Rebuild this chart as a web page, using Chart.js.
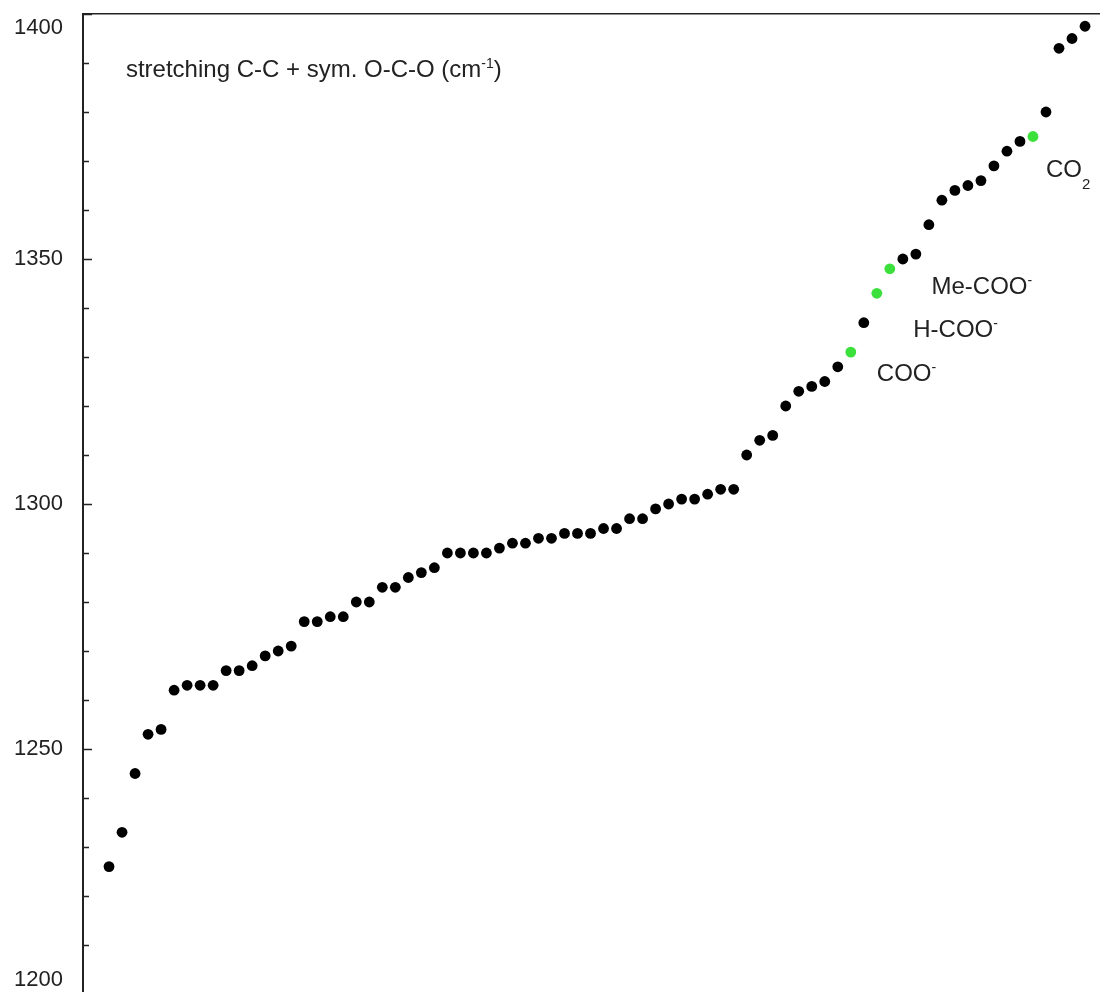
<!DOCTYPE html>
<html lang="en">

<head>
    <meta charset="UTF-8">
    <meta name="viewport" content="width=device-width, initial-scale=1.0">
    <title>stretching C-C + sym. O-C-O</title>
    <script src="https://cdn.jsdelivr.net/npm/chart.js@4.4.0/dist/chart.umd.min.js"></script>
    <style>
        html,
        body {
            margin: 0;
            padding: 0;
            background: #fff;
            overflow: hidden;
        }

        /* a bit taller than the window: the 1200 line sits just below the picture */
        .chart-box {
            position: relative;
            width: 1100px;
            height: 1004px;
        }
    </style>
</head>

<body>
    <div class="chart-box">
        <canvas id="myChart"></canvas>
    </div>
    <script>
        // sample number (x) and band position in cm-1 (y)
        const sampleNo = [];
        for (let i = 1; i <= 76; i++) sampleNo.push(i);

        const wavenumbers = [
            1226, 1233, 1245, 1253, 1254, 1262, 1263, 1263, 1263, 1266,
            1266, 1267, 1269, 1270, 1271, 1276, 1276, 1277, 1277, 1280,
            1280, 1283, 1283, 1285, 1286, 1287, 1290, 1290, 1290, 1290,
            1291, 1292, 1292, 1293, 1293, 1294, 1294, 1294, 1295, 1295,
            1297, 1297, 1299, 1300, 1301, 1301, 1302, 1303, 1303, 1310,
            1313, 1314, 1320, 1323, 1324, 1325, 1328, 1331, 1337, 1343,
            1348, 1350, 1351, 1357, 1362, 1364, 1365, 1366, 1369, 1372,
            1374, 1375, 1380, 1393, 1395, 1397.5
        ];

        // samples shown in green (COO-, H-COO-, Me-COO-, CO2)
        const greenSamples = [58, 60, 61, 72];

        const yMin = 1200;
        const yMax = 1400;
        const yStep = 10;
        const yLabelStep = 50;

        // text labels, anchored in data units (x = sample no, y = baseline in cm-1)
        const notes = [
            { x: 2.3, y: 1387.1, parts: [['stretching C-C + sym. O-C-O (cm', ''], ['-1', 'sup'], [')', '']] },
            { x: 60.0, y: 1325.2, parts: [['COO', ''], ['-', 'sup']] },
            { x: 62.8, y: 1334.0, parts: [['H-COO', ''], ['-', 'sup']] },
            { x: 64.2, y: 1342.9, parts: [['Me-COO', ''], ['-', 'sup']] },
            { x: 73.0, y: 1366.8, parts: [['CO', ''], ['2', 'sub']] }
        ];

        const fontFamily = '"Liberation Sans", Arial, sans-serif';
        const inkColor = '#222';
        const greenColor = '#3be03b';

        // short tick marks on the inside of the left axis
        const innerTicks = {
            id: 'innerTicks',
            afterDatasetsDraw(chart) {
                const y = chart.scales.y;
                const ctx = chart.ctx;
                const left = chart.chartArea.left;
                ctx.save();
                ctx.strokeStyle = inkColor;
                ctx.lineWidth = 1.5;
                y.ticks.forEach((t, i) => {
                    const py = Math.round(y.getPixelForTick(i)) + 0.5;
                    const len = t.value % yLabelStep === 0 ? 9 : 6;
                    ctx.beginPath();
                    ctx.moveTo(left, py);
                    ctx.lineTo(left + len, py);
                    ctx.stroke();
                });
                ctx.restore();
            }
        };

        // axis title and peak names, with super/subscripts
        const noteText = {
            id: 'noteText',
            afterDatasetsDraw(chart) {
                const ctx = chart.ctx;
                const xs = chart.scales.x;
                const ys = chart.scales.y;
                ctx.save();
                ctx.fillStyle = inkColor;
                ctx.textBaseline = 'alphabetic';
                ctx.textAlign = 'left';
                notes.forEach(n => {
                    let px = xs.getPixelForValue(n.x);
                    const py = ys.getPixelForValue(n.y);
                    n.parts.forEach(([txt, kind]) => {
                        let dy = 0;
                        if (kind === 'sup') {
                            ctx.font = '14px ' + fontFamily;
                            dy = -9;
                        } else if (kind === 'sub') {
                            ctx.font = '15px ' + fontFamily;
                            dy = 12;
                        } else {
                            ctx.font = '24px ' + fontFamily;
                        }
                        ctx.fillText(txt, px, py + dy);
                        px += ctx.measureText(txt).width;
                    });
                });
                ctx.restore();
            }
        };

        var ctx = document.getElementById('myChart').getContext('2d');
        var myChart = new Chart(ctx, {
            type: 'scatter',
            data: {
                datasets: [{
                    label: 'stretching C-C + sym. O-C-O',
                    data: sampleNo.map((n, i) => ({ x: n, y: wavenumbers[i] })),
                    pointRadius: 5.4,
                    pointBorderWidth: 0,
                    pointBackgroundColor: sampleNo.map(n => greenSamples.includes(n) ? greenColor : '#000'),
                    pointBorderColor: sampleNo.map(n => greenSamples.includes(n) ? greenColor : '#000')
                }]
            },
            options: {
                responsive: true,
                maintainAspectRatio: false,
                animation: false,
                layout: {
                    autoPadding: false,
                    padding: { top: 14, bottom: 10, left: 0, right: 0 }
                },
                plugins: {
                    legend: { display: false },
                    tooltip: { enabled: false },
                    title: { display: false }
                },
                scales: {
                    x: {
                        type: 'linear',
                        position: 'top',
                        min: -1,
                        max: 77.15,
                        ticks: { display: false },
                        grid: { display: false, drawTicks: false },
                        border: { display: true, color: inkColor, width: 1.5 }
                    },
                    y: {
                        min: yMin,
                        max: yMax,
                        afterFit(scale) {
                            scale.width = 83;
                            scale.paddingTop = 0;
                            scale.paddingBottom = 0;
                        },
                        ticks: {
                            stepSize: yStep,
                            autoSkip: false,
                            padding: 20,
                            color: inkColor,
                            font: { family: fontFamily, size: 22, lineHeight: 1.3 },
                            callback: function (v) {
                                if (v % yLabelStep !== 0) return '';
                                // end labels are pushed inside the frame, like the original
                                if (v === yMax) return ['', String(v)];
                                if (v === yMin) return [String(v), ''];
                                return String(v);
                            }
                        },
                        grid: { display: false, drawTicks: false },
                        border: { display: true, color: inkColor, width: 2 }
                    }
                }
            },
            plugins: [innerTicks, noteText]
        });
    </script>
</body>

</html>
